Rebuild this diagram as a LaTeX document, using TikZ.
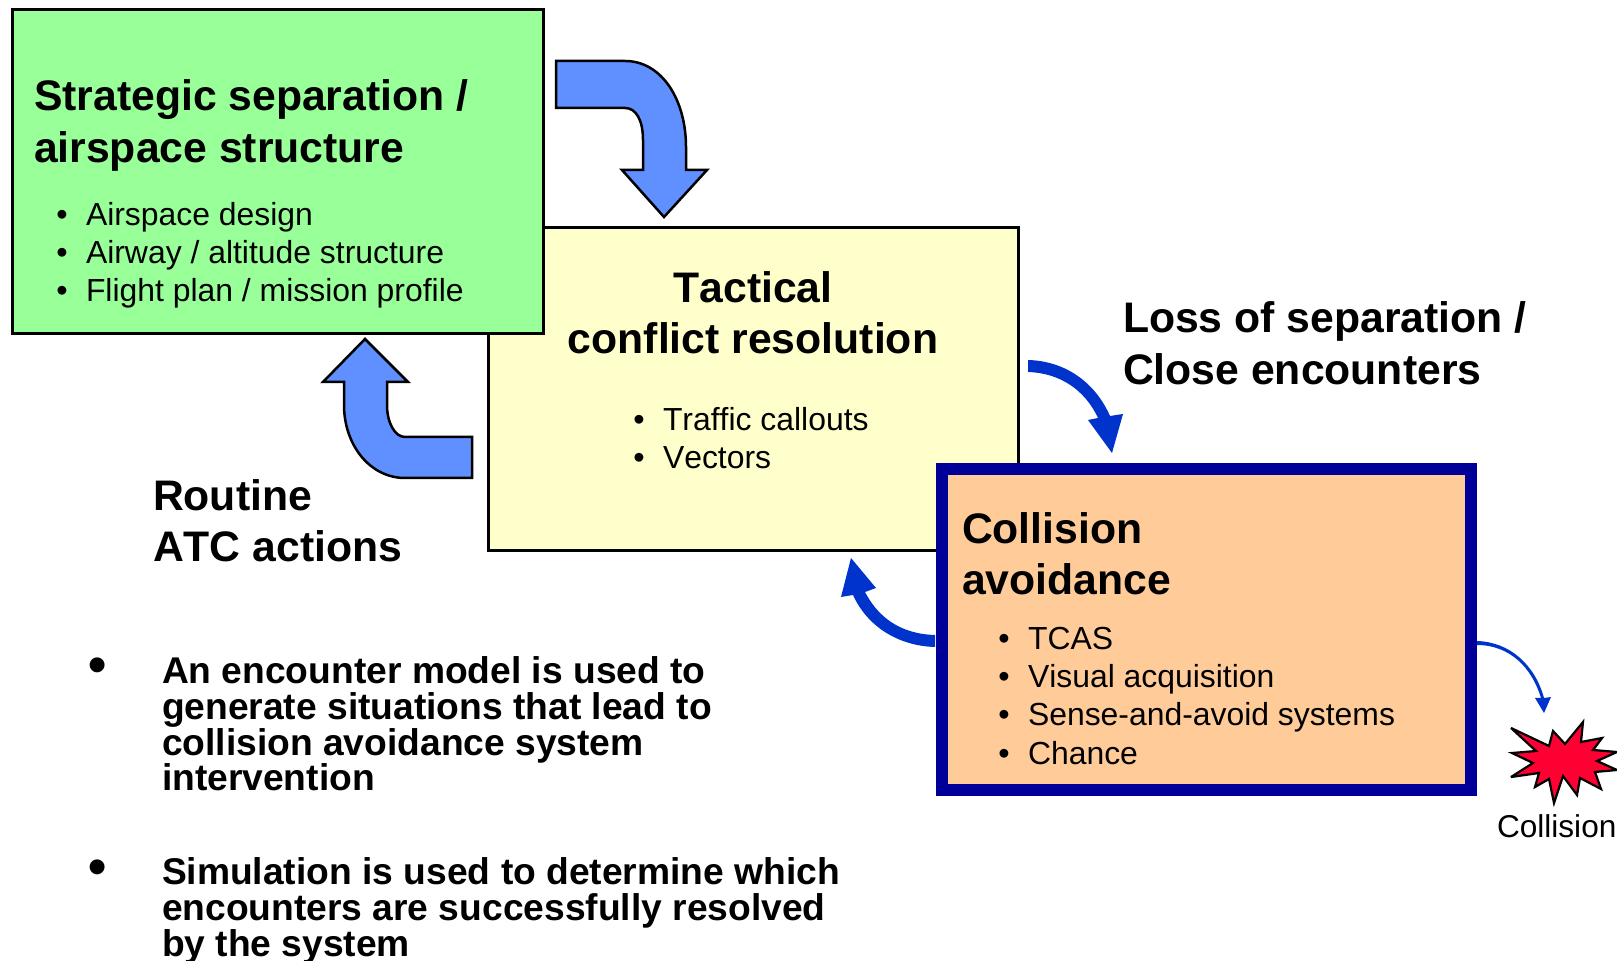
\documentclass[tikz,border=0pt]{standalone}
\usepackage{fontspec}
\setmainfont[Kerning=Off]{Liberation Sans}
\tikzset{
 x=0.5pt,y=-0.5pt,
 boxline/.style={draw=black,line width=1.5pt},
 head/.style={anchor=base west,inner sep=0pt,outer sep=0pt,font=\fontsize{21.36}{24}\selectfont\bfseries},
 item/.style={anchor=base west,inner sep=0pt,outer sep=0pt,font=\fontsize{15.95}{20}\selectfont},
 dotmark/.style={anchor=base,inner sep=0pt,outer sep=0pt,font=\fontsize{16.2}{20}\selectfont},
 note/.style={anchor=base west,inner sep=0pt,outer sep=0pt,font=\fontsize{18.6}{20}\selectfont\bfseries},
 bigdot/.style={anchor=base,inner sep=0pt,outer sep=0pt,font=\fontsize{26}{30}\selectfont\bfseries},
 blockarrow/.style={draw=black,line width=1.25pt,fill=arrowblue,line join=miter},
 arcarrow/.style={fill=arcblue,draw=none},
}
\definecolor{boxgreen}{HTML}{99FF99}
\definecolor{boxyellow}{HTML}{FFFFCC}
\definecolor{boxorange}{HTML}{FFCC99}
\definecolor{boxnavy}{HTML}{000099}
\definecolor{arrowblue}{HTML}{6090FF}
\definecolor{arcblue}{HTML}{0033CC}
\definecolor{starred}{HTML}{FF0033}
\begin{document}
\begin{tikzpicture}
\useasboundingbox (0,0) rectangle (1617,961);
% boxes
\path[boxline,fill=boxyellow] (488,227.5) rectangle (1018,550.5);
\path[boxline,fill=boxgreen] (12.5,10) rectangle (543.5,333.5);
\path[draw=boxnavy,line width=6pt,fill=boxorange] (942,469) rectangle (1471,790);
% block arrows
\path[blockarrow] (556,61) -- (625,61) .. controls (662,61) and (686,100) .. (686,147) -- (686,170) -- (707,170) -- (664,217) -- (622,170) -- (643,170) -- (643,140) .. controls (643,120) and (636,108) .. (625,108) -- (556,108) -- cycle;
\path[blockarrow] (472,437) -- (405,437) .. controls (395,437) and (387,423) .. (387,405) -- (387,382) -- (408,382) -- (365,339) -- (323,382) -- (344,382) -- (344,405) .. controls (344,445) and (370,478) .. (405,478) -- (472,478) -- cycle;
% arc arrows
\path[arcblue,arcarrow] (1028,360) .. controls (1065,361) and (1095,382) .. (1110,416) -- (1123,414) -- (1112,453) -- (1088,420) -- (1098,418) .. controls (1085,390) and (1060,373) .. (1028,372) -- cycle;
\path[arcarrow] (935,647) .. controls (900,646) and (868,628) .. (853,595) -- (841,597) -- (851,558) -- (876,588) -- (865,592) .. controls (878,617) and (900,634) .. (935,635) -- cycle;
\path[arcarrow] (1477,641) .. controls (1510,642) and (1535,665) .. (1544,698) -- (1551,697) -- (1544,713) -- (1535,698) -- (1541,698) .. controls (1532,668) and (1510,645) .. (1477,645) -- cycle;
% star
\path[draw=black,line width=1.1pt,fill=starred,line join=miter,miter limit=4] (1511,728) -- (1549,746) -- (1553,731) -- (1565,744) -- (1583,722) -- (1581,742) -- (1602,738) -- (1593,750) -- (1617,752) -- (1597,761) -- (1617,770) -- (1595,772) -- (1601,789) -- (1580,778) -- (1577,795) -- (1563,776) -- (1554,803) -- (1549,779) -- (1535,787) -- (1539,773) -- (1511,777) -- (1533,763) -- (1512,753) -- (1536,751) -- cycle;
% texts
\node[head] (s1) at (34,110.5) {Strategic separation /};
\node[head] (s2) at (34,163) {airspace structure};
\node[dotmark] (sd1) at (62,226) {•};
\node[dotmark] (sd2) at (62,264) {•};
\node[dotmark] (sd3) at (62,302) {•};
\node[item] (si1) at (86,226) {Airspace design};
\node[item] (si2) at (86,264) {Airway / altitude structure};
\node[item] (si3) at (86,302) {Flight plan / mission profile};
\node[head,anchor=base] (t1) at (753,302.5) {Tactical};
\node[head,anchor=base] (t2) at (753,353.5) {conflict resolution};
\node[dotmark] (td1) at (639,431) {•};
\node[dotmark] (td2) at (639,469) {•};
\node[item] (ti1) at (663,431) {Traffic callouts};
\node[item] (ti2) at (663,469) {Vectors};
\node[head] (l1) at (1123,332.5) {Loss of separation /};
\node[head] (l2) at (1123,384.5) {Close encounters};
\node[head] (r1) at (153,511) {Routine};
\node[head] (r2) at (153,562) {ATC actions};
\node[head] (c1) at (962,543.5) {Collision};
\node[head] (c2) at (962,594.5) {avoidance};
\node[dotmark] (cd1) at (1004,650) {•};
\node[dotmark] (cd2) at (1004,688) {•};
\node[dotmark] (cd3) at (1004,726) {•};
\node[dotmark] (cd4) at (1004,765) {•};
\node[item] (ci1) at (1028,650) {TCAS};
\node[item] (ci2) at (1028,688) {Visual acquisition};
\node[item] (ci3) at (1028,726) {Sense-and-avoid systems};
\node[item] (ci4) at (1028,765) {Chance};
\node[item,font=\fontsize{15.8}{18}\selectfont] (cl) at (1497,837.5) {Collision};
\node[bigdot] (b1) at (98,683) {•};
\node[bigdot] (b2) at (98,884) {•};
\node[note] (n1) at (162,684) {An encounter model is used to};
\node[note] (n2) at (162,720) {generate situations that lead to};
\node[note] (n3) at (162,755) {collision avoidance system};
\node[note] (n4) at (162,790.5) {intervention};
\node[note] (n5) at (162,884) {Simulation is used to determine which};
\node[note] (n6) at (162,920.5) {encounters are successfully resolved};
\node[note] (n7) at (162,956.5) {by the system};
\end{tikzpicture}
\end{document}
